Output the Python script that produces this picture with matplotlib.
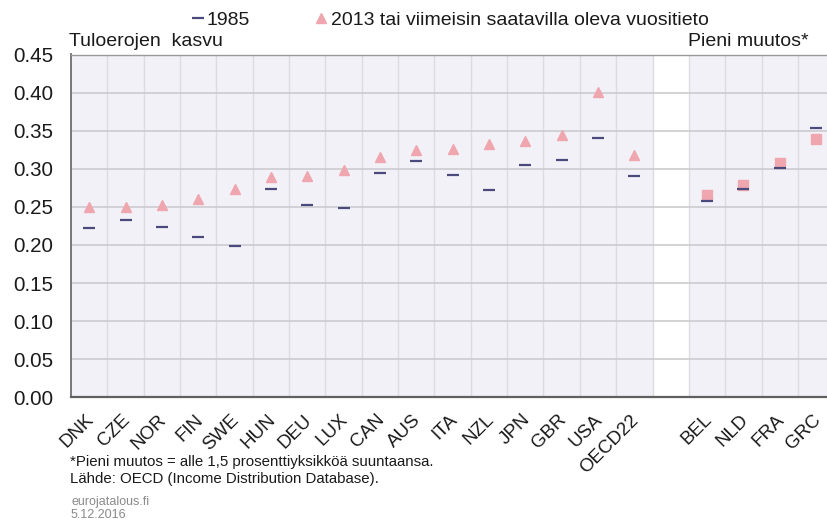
import matplotlib
matplotlib.use("Agg")
import matplotlib.pyplot as plt
from matplotlib.lines import Line2D
import matplotlib.transforms as mtransforms
import numpy as np

plt.rcParams['font.family'] = ['Liberation Sans', 'DejaVu Sans']

# ---- data ----
countries_main = ["DNK", "CZE", "NOR", "FIN", "SWE", "HUN", "DEU", "LUX", "CAN",
                  "AUS", "ITA", "NZL", "JPN", "GBR", "USA", "OECD22"]
val_1985_main = [0.222, 0.233, 0.223, 0.210, 0.199, 0.274, 0.252, 0.249, 0.294,
                 0.310, 0.292, 0.272, 0.305, 0.311, 0.340, 0.291]
val_2013_main = [0.250, 0.250, 0.252, 0.261, 0.274, 0.289, 0.291, 0.299, 0.315,
                 0.325, 0.326, 0.333, 0.336, 0.344, 0.401, 0.318]

countries_small = ["BEL", "NLD", "FRA", "GRC"]
val_1985_small = [0.258, 0.273, 0.301, 0.353]
val_2013_small = [0.265, 0.279, 0.307, 0.339]

yticks = [0.00, 0.05, 0.10, 0.15, 0.20, 0.25, 0.30, 0.35, 0.40, 0.45]

# ---- styles ----
NAVY = "#4a4a7c"
PINK = "#efa6ae"
BG = "#f2f1f8"

fig = plt.figure(figsize=(8.27, 5.25), dpi=100)
W, H = 827, 525
ax_left, ax_right = 71 / W, 1.0
ax_bottom = 1 - 397.4 / H
ax_top = 1 - 54.5 / H
ax = fig.add_axes([ax_left, ax_bottom, ax_right - ax_left, ax_top - ax_bottom])

n_main = len(countries_main)
gap_idx = n_main
x_main = np.arange(n_main)
x_small = np.arange(n_main + 1, n_main + 1 + len(countries_small))

ax.set_facecolor(BG)
ax.axvspan(gap_idx - 0.5, gap_idx + 0.5, color="white", zorder=0.5, lw=0)

ax.set_xlim(-0.5, 20.3)
ax.set_ylim(0, 0.45)

# grid
for y in yticks[1:]:
    ax.axhline(y, color="#c9c9cc", lw=1.1, zorder=1)
for xb in np.arange(0.5, 21, 1.0):
    ax.axvline(xb, color="#dcdce2", lw=1.0, zorder=0.9)

# markers
ax.plot(x_main, val_2013_main, linestyle="none", marker="^", ms=7.0,
        color=PINK, mec=PINK, zorder=3)
ax.plot(x_small, val_2013_small, linestyle="none", marker="s", ms=7.2,
        color=PINK, mec=PINK, zorder=3)
ax.plot(x_main, val_1985_main, linestyle="none", marker="_", ms=8.0, mew=1.6,
        color=NAVY, zorder=4)
ax.plot(x_small, val_1985_small, linestyle="none", marker="_", ms=8.0, mew=1.6,
        color=NAVY, zorder=4)

# ticks
ax.set_yticks(yticks)
ax.set_yticklabels([f"{v:.2f}" for v in yticks], fontsize=14.8, color="#1a1a1a")
ax.tick_params(axis="y", length=0, pad=12.5)

xt = list(x_main) + list(x_small)
xl = countries_main + countries_small
ax.set_xticks(xt)
ax.set_xticklabels(xl, rotation=45, ha="right", va="top",
                   rotation_mode="anchor", fontsize=13.5, color="#1a1a1a")
ax.tick_params(axis="x", length=0, pad=10)
offset = mtransforms.ScaledTranslation(-4 / 100, 0, fig.dpi_scale_trans)
for lab in ax.get_xticklabels():
    lab.set_transform(lab.get_transform() + offset)

# spines
ax.spines["left"].set_color("#6e6e6e")
ax.spines["left"].set_linewidth(1.3)
ax.spines["bottom"].set_color("#606060")
ax.spines["bottom"].set_linewidth(1.6)
ax.spines["top"].set_color("#9a9a9a")
ax.spines["top"].set_linewidth(1.0)
ax.spines["right"].set_visible(False)
for s in ax.spines.values():
    s.set_zorder(5)

# panel labels
fig.text(69 / W, 1 - 46.5 / H, "Tuloerojen  kasvu", fontsize=14, ha="left",
         va="baseline", color="#1a1a1a")
fig.text(809 / W, 1 - 46.5 / H, "Pieni muutos*", fontsize=14, ha="right",
         va="baseline", color="#1a1a1a")

# legend (manual)
ly = 1 - 18 / H
fig.add_artist(Line2D([197.5 / W], [ly], marker="_", ms=8.0, mew=1.6,
                      color=NAVY, transform=fig.transFigure))
fig.text(207 / W, 1 - 25 / H, "1985", fontsize=14, ha="left", va="baseline",
         color="#1a1a1a")
fig.add_artist(Line2D([321 / W], [ly], marker="^", ms=7.0, color=PINK,
                      mec=PINK, linestyle="none", transform=fig.transFigure))
fig.text(331 / W, 1 - 25 / H, "2013 tai viimeisin saatavilla oleva vuositieto",
         fontsize=14, ha="left", va="baseline", color="#1a1a1a")

# footnotes
fig.text(70 / W, 1 - 466 / H,
         "*Pieni muutos = alle 1,5 prosenttiyksikköä suuntaansa.",
         fontsize=10.8, ha="left", va="baseline", color="#1a1a1a")
fig.text(70 / W, 1 - 482.5 / H,
         "Lähde: OECD (Income Distribution Database).",
         fontsize=10.8, ha="left", va="baseline", color="#1a1a1a")
fig.text(71 / W, 1 - 505 / H, "eurojatalous.fi", fontsize=9, ha="left",
         va="baseline", color="#8a8a8a")
fig.text(71 / W, 1 - 518 / H, "5.12.2016", fontsize=9, ha="left",
         va="baseline", color="#8a8a8a")

fig.savefig("out.png", dpi=100)
